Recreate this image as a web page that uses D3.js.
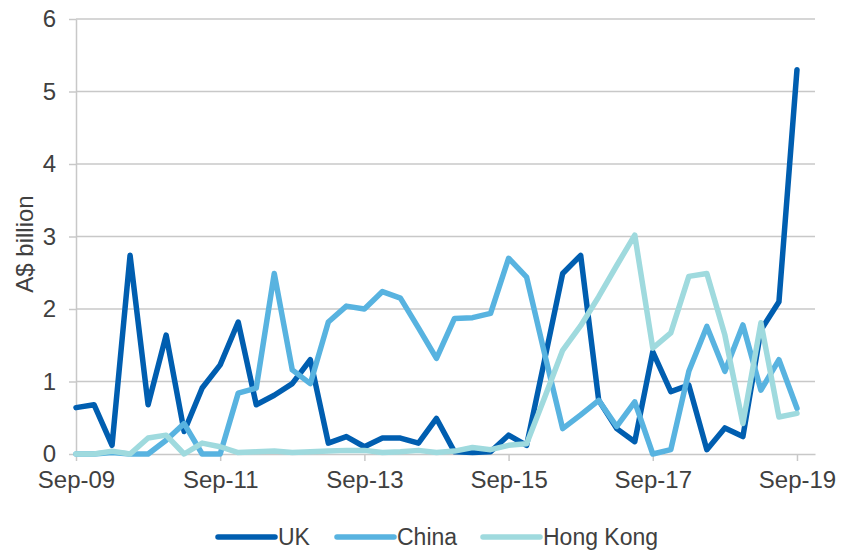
<!DOCTYPE html>
<html>
<head>
<meta charset="utf-8">
<script src="https://cdn.jsdelivr.net/npm/d3@7"></script>
<style>
  body { margin: 0; background: #fff; }
  svg text { font-family: "Liberation Sans", Arial, sans-serif; fill: #404040; }
</style>
</head>
<body>
<svg id="drawing_region"></svg>
<script>
// quarterly, Sep-09 .. Sep-19
var uk = [0.64, 0.68, 0.12, 2.74, 0.68, 1.64, 0.31, 0.91, 1.23, 1.82,
          0.68, 0.81, 0.97, 1.30, 0.15, 0.24, 0.10, 0.22, 0.22, 0.15,
          0.49, 0.03, 0.02, 0.03, 0.26, 0.12, 1.30, 2.49, 2.74, 0.74,
          0.35, 0.17, 1.41, 0.86, 0.95, 0.06, 0.36, 0.24, 1.71, 2.10, 5.30];
var china = [0, 0, 0.02, 0, 0, 0.19, 0.42, 0, 0, 0.84,
             0.91, 2.49, 1.16, 0.97, 1.82, 2.04, 2.00, 2.24, 2.15, 1.74,
             1.32, 1.87, 1.88, 1.94, 2.70, 2.44, 1.38, 0.35, 0.54, 0.74,
             0.38, 0.72, 0, 0.06, 1.14, 1.76, 1.14, 1.78, 0.88, 1.30, 0.63];
var hongkong = [0, 0, 0.04, 0, 0.22, 0.26, 0, 0.15, 0.10, 0.02,
                0.03, 0.04, 0.02, 0.03, 0.04, 0.05, 0.05, 0.02, 0.03, 0.05,
                0.02, 0.04, 0.09, 0.06, 0.12, 0.14, 0.78, 1.43, 1.77, 2.17,
                2.60, 3.02, 1.46, 1.67, 2.45, 2.49, 1.64, 0.42, 1.81, 0.51, 0.56];
var tick_labels = ["Sep-09", "Sep-11", "Sep-13", "Sep-15", "Sep-17", "Sep-19"];
var y_ticks = [0, 1, 2, 3, 4, 5, 6];

var series = [
    {name: "UK", values: uk, color: "#005eb0"},
    {name: "China", values: china, color: "#58b3e0"},
    {name: "Hong Kong", values: hongkong, color: "#9fdade"}
];

var width = 841, height = 552;
var margin = {top: 19, right: 26, bottom: 98, left: 76};
var inner_width = width - margin.left - margin.right;
var inner_height = height - margin.top - margin.bottom;

var svg = d3.select('#drawing_region')
    .attr('width', width)
    .attr('height', height);

var chart = svg.append('g')
    .attr('transform', `translate(${margin.left}, ${margin.top})`);

// one step per quarter, axis runs one quarter past the last point
var xscale = d3.scaleLinear()
    .domain([0, uk.length])
    .range([0, inner_width]);

var yscale = d3.scaleLinear()
    .domain([0, 6])
    .range([inner_height, 0]);

// gridlines
chart.append('g')
    .selectAll('line')
    .data(y_ticks.filter(d => d > 0))
    .join('line')
    .attr('x1', 0)
    .attr('x2', inner_width)
    .attr('y1', d => yscale(d))
    .attr('y2', d => yscale(d))
    .attr('stroke', '#c8c8c8')
    .attr('stroke-width', 1.5);

// y axis
var yaxis = d3.axisLeft(yscale)
    .tickValues(y_ticks)
    .tickFormat(d3.format('d'))
    .tickSize(7)
    .tickPadding(13)
    .tickSizeOuter(0);

var yaxis_group = chart.append('g').call(yaxis);
yaxis_group.select('.domain').attr('stroke', '#c8c8c8').attr('stroke-width', 1.5);
yaxis_group.selectAll('.tick line').attr('stroke', '#c8c8c8').attr('stroke-width', 1.5);
yaxis_group.selectAll('.tick text')
    .style('font-size', '24px')
    .attr('fill', '#404040');

// x axis
var xaxis = d3.axisBottom(xscale)
    .tickValues(tick_labels.map((d, i) => i * 8))
    .tickFormat((d, i) => tick_labels[i])
    .tickSize(7)
    .tickPadding(10)
    .tickSizeOuter(0);

var xaxis_group = chart.append('g')
    .attr('transform', `translate(0, ${inner_height})`)
    .call(xaxis);
xaxis_group.select('.domain').attr('stroke', '#c8c8c8').attr('stroke-width', 1.5);
xaxis_group.selectAll('.tick line').attr('stroke', '#c8c8c8').attr('stroke-width', 1.5);
xaxis_group.selectAll('.tick text')
    .style('font-size', '24px')
    .attr('fill', '#404040');

// y label
svg.append('text')
    .attr('transform', 'translate(33, 244) rotate(-90)')
    .attr('text-anchor', 'middle')
    .style('font-size', '24px')
    .text('A$ billion');

// lines
var line = d3.line()
    .x((d, i) => xscale(i))
    .y(d => yscale(d));

chart.selectAll('path.series')
    .data(series)
    .join('path')
    .attr('class', 'series')
    .attr('fill', 'none')
    .attr('stroke', d => d.color)
    .attr('stroke-width', 5.5)
    .attr('stroke-linejoin', 'round')
    .attr('stroke-linecap', 'round')
    .attr('d', d => line(d.values));

// legend (kept just inside the bottom edge)
var legend_x = [218, 337, 483];
var legend = svg.append('g');
var items = legend.selectAll('g')
    .data(series)
    .join('g')
    .attr('transform', (d, i) => `translate(${legend_x[i]}, 537)`);

items.append('line')
    .attr('x1', 0)
    .attr('x2', 57)
    .attr('stroke', d => d.color)
    .attr('stroke-width', 5.5)
    .attr('stroke-linecap', 'round');

items.append('text')
    .attr('x', 60)
    .attr('y', 8)
    .style('font-size', '23px')
    .text(d => d.name);
</script>
</body>
</html>
